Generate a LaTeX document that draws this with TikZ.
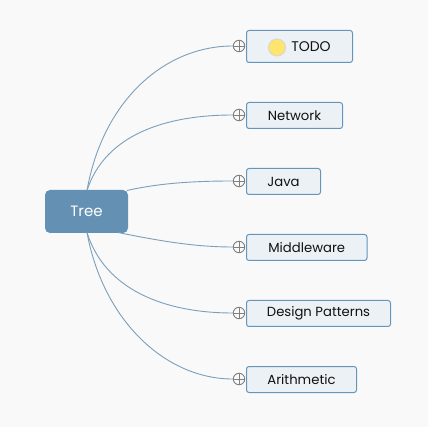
\documentclass[tikz,border=0pt]{standalone}
\usepackage{fontspec}
\setmainfont{Poppins}
\definecolor{bgc}{HTML}{F9F9F9}
\definecolor{rootc}{HTML}{6490B3}
\definecolor{linec}{HTML}{7C9FBB}
\definecolor{boxl}{HTML}{6496BC}
\definecolor{boxf}{HTML}{ECF1F6}
\definecolor{txt}{HTML}{111111}
\definecolor{plusc}{HTML}{808080}
\definecolor{iconf}{HTML}{FFE46E}
\definecolor{iconl}{HTML}{D8D8D0}
\tikzset{
 rootbox/.style={fill=rootc,draw=none,rounded corners=5pt,inner sep=0pt,text=white,font=\fontsize{15}{18}\selectfont},
 topicbox/.style={fill=boxf,draw=boxl,line width=1pt,rounded corners=2.5pt,inner sep=0pt,text=txt,font=\fontsize{13.2}{15}\selectfont,anchor=west},
 fold/.style={circle,draw=plusc,line width=0.9pt,fill=bgc,minimum size=11.5pt,inner sep=0pt,
   path picture={\draw[plusc,line width=0.7pt] (path picture bounding box.west)--(path picture bounding box.east)
     (path picture bounding box.north)--(path picture bounding box.south);}},
 conn/.style={draw=linec,line width=0.9pt},
 smile/.style={circle,fill=iconf,draw=iconl,line width=1pt,minimum size=17pt,inner sep=0pt}
}
\begin{document}
\begin{tikzpicture}[x=1pt,y=-1pt]
\useasboundingbox (0,0) rectangle (428,427);
\fill[bgc] (0,0) rectangle (428,427);
\node[rootbox,minimum width=83pt,minimum height=43pt] (root) at (86.5,211.5) {Tree};
\coordinate (rt) at (87,190.5);
\coordinate (rb) at (87,232.5);
\coordinate (rjt) at (127,190.5);
\coordinate (rjb) at (118,232.5);
\node[topicbox,minimum width=106pt,minimum height=32pt] (todo) at (246,46.5) {\makebox[106pt][c]{\hspace*{23pt}\fontsize{14}{15}\selectfont TODO}};
\node[topicbox,minimum width=96pt,minimum height=26pt] (net) at (246,115.5) {\makebox[96pt][c]{Network}};
\node[topicbox,minimum width=74pt,minimum height=26pt] (java) at (246,181.5) {\makebox[74pt][c]{Java}};
\node[topicbox,minimum width=120.5pt,minimum height=26pt] (mid) at (246,247.5) {\makebox[120.5pt][c]{Middleware}};
\node[topicbox,minimum width=144pt,minimum height=26pt] (dp) at (246,313.5) {\makebox[144pt][c]{Design Patterns}};
\node[topicbox,minimum width=110pt,minimum height=26pt] (ari) at (246,379.5) {\makebox[110pt][c]{Arithmetic}};
\node[smile] (icon) at (277,47.5) {};
\node[fold] (f1) at (239,46) {};
\node[fold] (f2) at (239,115) {};
\node[fold] (f3) at (239,181) {};
\node[fold] (f4) at (239,247) {};
\node[fold] (f5) at (239,313) {};
\node[fold] (f6) at (239,379) {};
\draw[conn] (rt) .. controls (103,100) and (165,46) .. (f1.west);
\draw[conn] (rt) .. controls (105,135) and (165,115) .. (f2.west);
\draw[conn] (rjt) .. controls (160,183) and (195,181) .. (f3.west);
\draw[conn] (rjb) .. controls (160,241) and (195,247) .. (f4.west);
\draw[conn] (rb) .. controls (105,290) and (165,313) .. (f5.west);
\draw[conn] (rb) .. controls (103,320) and (165,379) .. (f6.west);
\end{tikzpicture}
\end{document}
